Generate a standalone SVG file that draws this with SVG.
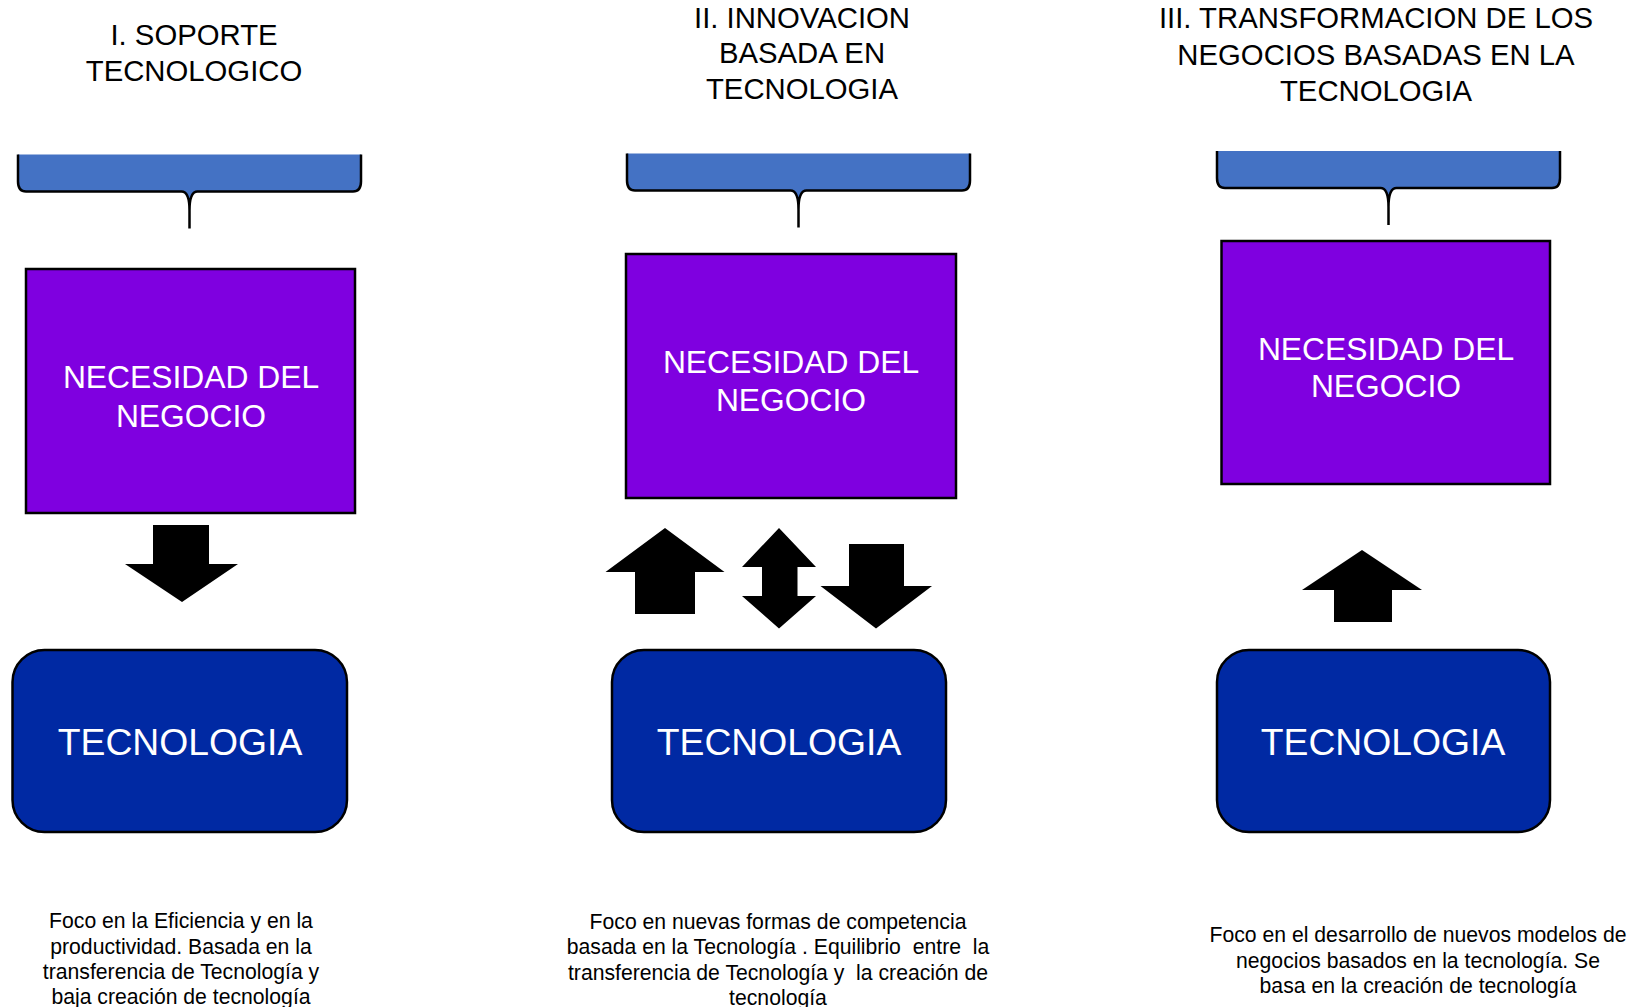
<svg xmlns="http://www.w3.org/2000/svg" width="1637" height="1007" viewBox="0 0 1637 1007">
<style>
text{font-family:"Liberation Sans",Arial,sans-serif;text-anchor:middle;white-space:pre}
.title{font-size:29.3px;fill:#000}
.need{fill:#7F00E0;stroke:#000;stroke-width:2.5}
.needt{font-size:31.8px;fill:#fff}
.tech{fill:#0029A3;stroke:#000;stroke-width:2.5}
.techt{font-size:37.3px;fill:#fff}
.desc{font-size:21.2px;fill:#000}
.arrow{fill:#000}
.bfill{fill:#4472C4}
.bline{fill:none;stroke:#000;stroke-width:2.5}
</style>
<defs>
<g id="brace">
<path class="bfill" d="M0,0 L0,27 Q0,37 8,37 L163.5,37 Q171.5,37 171.5,60 L171.5,74 L171.5,60 Q171.5,37 179.5,37 L335,37 Q343,37 343,27 L343,0 Z"/>
<path class="bline" d="M0,0 L0,27 Q0,37 8,37 L163.5,37 Q171.5,37 171.5,56 L171.5,74 M171.5,56 Q171.5,37 179.5,37 L335,37 Q343,37 343,27 L343,0"/>
</g>
</defs>

<g id="col1-title">
<text class="title" x="194" y="45">I. SOPORTE</text>
<text class="title" x="194" y="80.5">TECNOLOGICO</text>
</g>
<g id="col1-brace"><use href="#brace" transform="translate(18,154.5)"/></g>
<g id="col1-need">
<rect class="need" x="26" y="269" width="329" height="244"/>
<text class="needt" x="191" y="388">NECESIDAD DEL</text>
<text class="needt" x="191" y="426.5">NEGOCIO</text>
</g>
<g id="col1-tech">
<rect class="tech" x="12.5" y="650" width="334.5" height="182" rx="32" ry="32"/>
<text class="techt" x="180" y="755">TECNOLOGIA</text>
</g>
<g id="col1-desc">
<text class="desc" x="181" y="928">Foco en la Eficiencia y en la</text>
<text class="desc" x="181" y="953.5">productividad. Basada en la</text>
<text class="desc" x="181" y="978.5">transferencia de Tecnología y</text>
<text class="desc" x="181" y="1003.5">baja creación de tecnología</text>
</g>

<g id="col2-title">
<text class="title" x="802" y="28">II. INNOVACION</text>
<text class="title" x="802" y="62.5">BASADA EN</text>
<text class="title" x="802" y="99">TECNOLOGIA</text>
</g>
<g id="col2-brace"><use href="#brace" transform="translate(627,153.5)"/></g>
<g id="col2-need">
<rect class="need" x="626" y="254" width="330" height="244"/>
<text class="needt" x="791" y="373">NECESIDAD DEL</text>
<text class="needt" x="791" y="411">NEGOCIO</text>
</g>
<g id="col2-tech">
<rect class="tech" x="612" y="650" width="334" height="182" rx="32" ry="32"/>
<text class="techt" x="779" y="755">TECNOLOGIA</text>
</g>
<g id="col2-desc">
<text class="desc" x="778" y="928.5">Foco en nuevas formas de competencia</text>
<text class="desc" x="778" y="953.5">basada en la Tecnología . Equilibrio  entre  la</text>
<text class="desc" x="778" y="979.5">transferencia de Tecnología y  la creación de</text>
<text class="desc" x="778" y="1004.5">tecnología</text>
</g>

<g id="col3-title">
<text class="title" x="1376" y="28">III. TRANSFORMACION DE LOS</text>
<text class="title" x="1376" y="64.5">NEGOCIOS BASADAS EN LA</text>
<text class="title" x="1376" y="100.5">TECNOLOGIA</text>
</g>
<g id="col3-brace"><use href="#brace" transform="translate(1217,151)"/></g>
<g id="col3-need">
<rect class="need" x="1221.5" y="241" width="328.5" height="243"/>
<text class="needt" x="1386" y="360">NECESIDAD DEL</text>
<text class="needt" x="1386" y="397">NEGOCIO</text>
</g>
<g id="col3-tech">
<rect class="tech" x="1217" y="650" width="333" height="182" rx="32" ry="32"/>
<text class="techt" x="1383" y="755">TECNOLOGIA</text>
</g>
<g id="col3-desc">
<text class="desc" x="1418" y="942">Foco en el desarrollo de nuevos modelos de</text>
<text class="desc" x="1418" y="968">negocios basados en la tecnología. Se</text>
<text class="desc" x="1418" y="993">basa en la creación de tecnología</text>
</g>

<g id="connectors">
<polygon class="arrow" points="153,525 209,525 209,564 238,564 182,602 125,564 153,564"/>
<polygon class="arrow" points="665,528 724.5,572 695,572 695,614 635,614 635,572 605.5,572"/>
<polygon class="arrow" points="779,528 816,567 797.5,567 797.5,596 816,596 779,628.5 742,596 762,596 762,567 742,567"/>
<polygon class="arrow" points="849,544 904,544 904,586 932,586 876,628.5 820.5,586 849,586"/>
<polygon class="arrow" points="1362,550 1422,590 1392,590 1392,622 1334,622 1334,590 1302,590"/>
</g>
</svg>
